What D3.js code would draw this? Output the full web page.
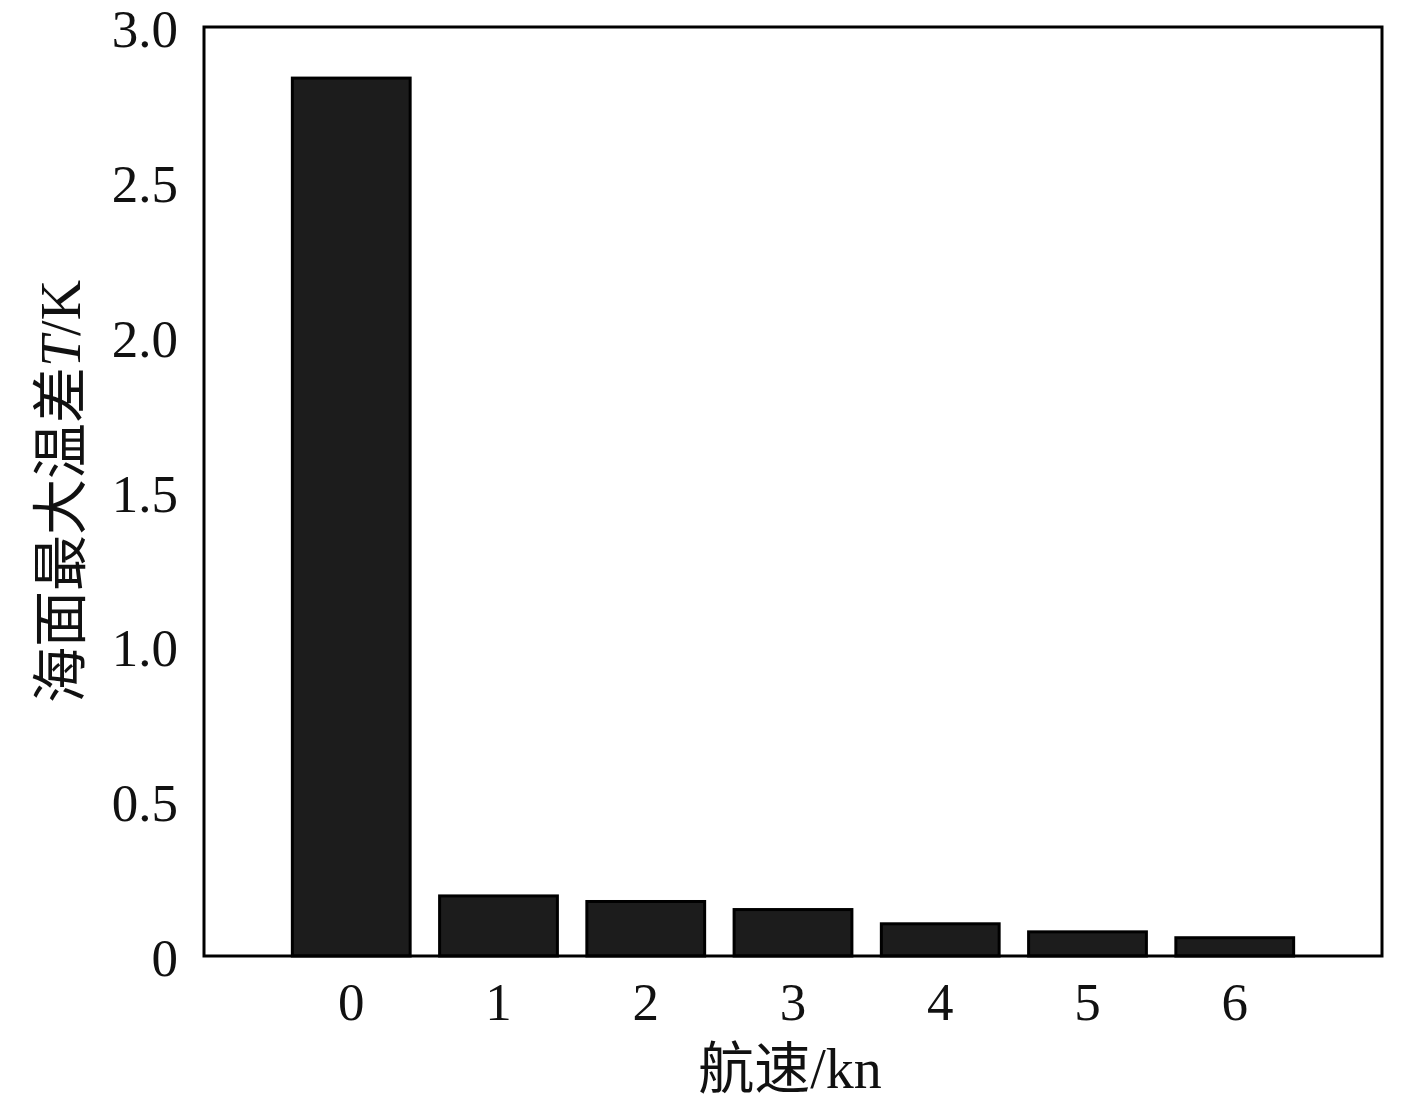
<!DOCTYPE html>
<html>
<head>
<meta charset="utf-8">
<script src="https://cdn.jsdelivr.net/npm/d3@7"></script>
<style>
  body { margin: 0; background: #fff; }
  svg { display: block; }
  .tick-label { font-family: 'Liberation Serif', 'Times New Roman', serif; font-size: 53px; fill: #111; }
  .axis-title { font-family: 'Liberation Serif', 'Noto Sans CJK SC', serif; font-size: 56px; fill: #111; }
</style>
</head>
<body>
<div class="svg-container"></div>
<script>
const speeds = [0, 1, 2, 3, 4, 5, 6]
const tempDiff = [2.835, 0.194, 0.176, 0.150, 0.104, 0.078, 0.059]
const yTicks = [0, 0.5, 1.0, 1.5, 2.0, 2.5, 3.0]

const width = 1417, height = 1108
const margin = {left: 204, right: 35, top: 27, bottom: 152}

const svg = d3.select('.svg-container').append('svg')
  .attr('width', width)
  .attr('height', height)

const x = d3.scaleLinear()
  .domain([-1, 7])
  .range([margin.left, width - margin.right])

const y = d3.scaleLinear()
  .domain([0, 3])
  .range([height - margin.bottom, margin.top])

const barW = (x(1) - x(0)) * 0.8

svg.selectAll('.bar')
  .data(speeds)
  .enter()
  .append('rect')
  .attr('class', 'bar')
  .attr('x', (d) => x(d) - barW / 2)
  .attr('y', (d, i) => y(tempDiff[i]))
  .attr('width', barW)
  .attr('height', (d, i) => y(0) - y(tempDiff[i]))
  .style('fill', '#1c1c1c')
  .style('stroke', '#000')
  .style('stroke-width', 3)

// frame
svg.append('rect')
  .attr('x', x(-1))
  .attr('y', y(3))
  .attr('width', x(7) - x(-1))
  .attr('height', y(0) - y(3))
  .style('fill', 'none')
  .style('stroke', '#000')
  .style('stroke-width', 3)

// y tick labels
svg.selectAll('.ylab')
  .data(yTicks)
  .enter()
  .append('text')
  .attr('class', 'tick-label')
  .attr('x', margin.left - 26)
  .attr('y', (d) => y(d) + 20)
  .attr('text-anchor', 'end')
  .text((d) => d === 0 ? '0' : d3.format('.1f')(d))

// x tick labels
svg.selectAll('.xlab')
  .data(speeds)
  .enter()
  .append('text')
  .attr('class', 'tick-label')
  .attr('x', (d) => x(d))
  .attr('y', 1020)
  .attr('text-anchor', 'middle')
  .text((d) => d)

// axis titles
svg.append('text')
  .attr('class', 'axis-title')
  .attr('x', 790)
  .attr('y', 1088)
  .attr('text-anchor', 'middle')
  .text('航速/kn')

const yTitle = svg.append('text')
  .attr('class', 'axis-title')
  .attr('transform', 'translate(80,' + (y(1.5)) + ') rotate(-90)')
  .attr('text-anchor', 'middle')
yTitle.append('tspan').text('海面最大温差')
yTitle.append('tspan').style('font-style', 'italic').text('T')
yTitle.append('tspan').text('/K')
</script>
</body>
</html>
